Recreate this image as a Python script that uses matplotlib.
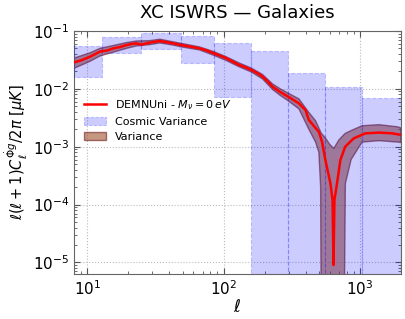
import matplotlib
matplotlib.use("Agg")
import matplotlib.pyplot as plt
from matplotlib.ticker import LogLocator, NullFormatter

# --- cross-correlation signal (absolute value) ---
ell = [8, 9, 10.5, 12.4, 14, 15.5, 17.5, 19.4, 21.5, 22.9, 25, 28.7, 34, 38, 42.5,
       48.9, 56, 66.5, 75, 84.5, 95, 104, 115, 130, 145, 160, 178, 193, 210, 228,
       260, 298, 357, 399, 422, 473, 500, 528, 558, 608, 630, 640, 650, 679, 719,
       780, 900, 1096, 1380, 1720, 2000]
cl = [0.0287, 0.031, 0.036, 0.044, 0.046, 0.050, 0.053, 0.057, 0.060, 0.061, 0.058,
      0.063, 0.067, 0.064, 0.061, 0.057, 0.054, 0.050, 0.046, 0.041, 0.037, 0.034,
      0.030, 0.0258, 0.0235, 0.0211, 0.0185, 0.0162, 0.0135, 0.0109, 0.0088, 0.0073,
      0.0056, 0.0043, 0.0029, 0.0021, 0.0018, 0.0012, 0.00059, 0.00023, 0.00012,
      0.000009, 0.00012, 0.00023, 0.00059, 0.0010, 0.00139, 0.0017, 0.00175, 0.0017,
      0.0016]

# --- sample variance band ---
band_ell = [8, 10.5, 12.4, 15.5, 19.4, 22.9, 28.7, 34, 42.5, 48.9, 66.5, 84.5, 104,
            130, 160, 193, 228, 260, 298, 357, 422, 473, 500, 515, 522, 560, 600, 643,
            700, 760, 782, 862, 1037, 1378, 1900, 2000]
band_hi = [0.034, 0.042, 0.050, 0.056, 0.063, 0.067, 0.068, 0.072, 0.065, 0.061, 0.053,
           0.044, 0.036, 0.028, 0.0228, 0.0177, 0.0122, 0.0100, 0.0084, 0.0067, 0.0039,
           0.0028, 0.0021, 0.0018, 0.0017, 0.0014, 0.0011, 0.00093, 0.0013, 0.0016,
           0.0017, 0.0019, 0.0023, 0.0024, 0.0022, 0.0021]
band_lo = [0.0226, 0.030, 0.037, 0.043, 0.050, 0.055, 0.058, 0.062, 0.057, 0.053, 0.047,
           0.038, 0.031, 0.024, 0.0195, 0.0148, 0.0098, 0.0077, 0.0062, 0.0045, 0.0020,
           0.0012, 0.0008, 0.0002, 1e-7, 1e-7, 1e-7, 1e-7, 1e-7, 1e-7, 0.00023, 0.0006,
           0.0012, 0.00127, 0.0012, 0.00118]

# --- cosmic variance boxes (bin edges and lower/upper limits) ---
bin_edges = [7, 12.9, 24.8, 48.9, 84.5, 160, 298, 559, 1035, 2100]
cv_lo = [0.016, 0.041, 0.048, 0.0276, 0.0071, 1e-7, 1e-7, 1e-7, 1e-7]
cv_hi = [0.055, 0.078, 0.091, 0.082, 0.063, 0.045, 0.019, 0.0106, 0.0069]

LINE_LABEL = r"DEMNUni - $M_\nu = 0\, eV$"

plt.rcParams.update({"font.family": "DejaVu Sans", "mathtext.fontset": "dejavusans"})

fig = plt.figure(figsize=(4.05, 3.19), dpi=100)
ax = fig.add_axes([0.183, 0.141, 0.807, 0.762])

ax.fill_between(band_ell, band_lo, band_hi, facecolor="sienna", alpha=0.6,
                edgecolor="#6e1e1e", lw=1.0, label="Variance", zorder=2)
for i in range(len(cv_lo)):
    ax.fill_between([bin_edges[i], bin_edges[i + 1]], cv_lo[i], cv_hi[i],
                    facecolor="blue", alpha=0.2, edgecolor="blue", lw=0.8, ls="--",
                    zorder=3, label="Cosmic Variance" if i == 0 else None)
ax.plot(ell, cl, color="red", lw=1.8, zorder=4, label=LINE_LABEL)

ax.set_xscale("log"); ax.set_yscale("log")
ax.set_xlim(8, 2000); ax.set_ylim(6.3e-6, 0.1)
ax.grid(True, which="major", color="#bbbbbb", ls=":", lw=0.8)
ax.tick_params(which="both", direction="in", top=True, right=True, labelsize=11,
               color="#555555")
ax.tick_params(which="major", length=4)
ax.tick_params(which="minor", length=2)
ax.yaxis.set_minor_locator(LogLocator(base=10, subs=range(2, 10), numticks=20))
ax.yaxis.set_minor_formatter(NullFormatter())
for s in ax.spines.values():
    s.set_color("#666666")

ax.set_title("XC ISWRS — Galaxies", fontsize=13, pad=9)
ax.set_xlabel(r"$\ell$", fontsize=12, labelpad=0)
ax.set_ylabel(r"$\ell(\ell+1)C_\ell^{\dot{\Phi}g}/2\pi\ [\mu K]$", fontsize=10.5, labelpad=2)

h, l = ax.get_legend_handles_labels()
order = [l.index(LINE_LABEL), l.index("Cosmic Variance"), l.index("Variance")]
ax.legend([h[i] for i in order], [l[i] for i in order], frameon=False, fontsize=8,
          labelspacing=0.45, loc="upper left", bbox_to_anchor=(0.0, 0.765))

fig.savefig("out.png", dpi=100)
